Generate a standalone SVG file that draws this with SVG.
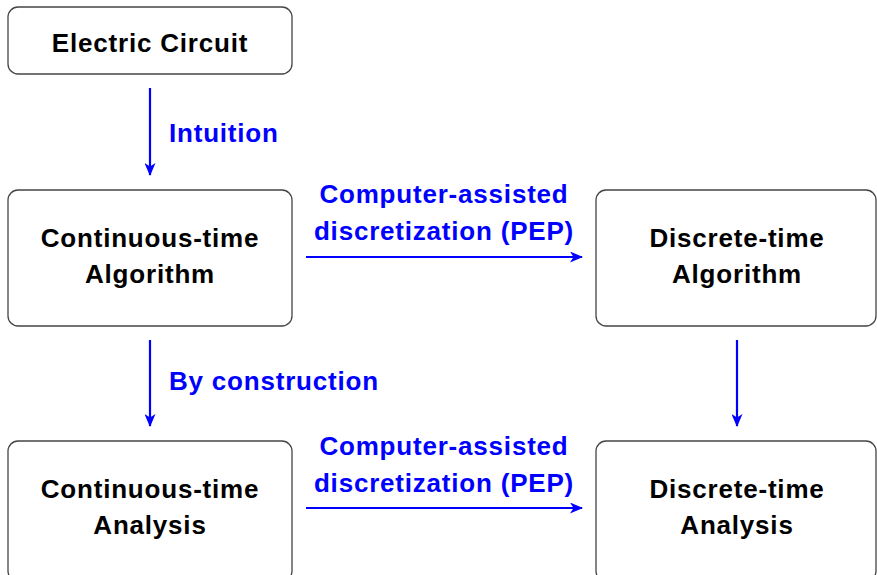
<svg xmlns="http://www.w3.org/2000/svg" width="877" height="575" viewBox="0 0 877 575">
<style>
.box{fill:#fff;stroke:#444;stroke-width:1.3}
.t{font-family:"Liberation Sans",Arial,sans-serif;font-weight:bold;font-size:26px;letter-spacing:0.8px;fill:#000;text-anchor:middle}
.l{font-family:"Liberation Sans",Arial,sans-serif;font-weight:bold;font-size:26px;letter-spacing:0.8px;fill:#0000ff}
.c{stroke:#0000ff;stroke-width:2.2;fill:none}
</style>
<defs>
<marker id="ah" viewBox="0 0 13 11" refX="12" refY="5.5" markerWidth="13" markerHeight="11" markerUnits="userSpaceOnUse" orient="auto">
<path d="M0,0 L13,5.5 L0,11 L3.5,5.5 Z" fill="#0000ff"/>
</marker>
</defs>
<g id="n-circuit"><rect class="box" x="8" y="7" width="284" height="67" rx="10"/><text class="t" x="150" y="52">Electric Circuit</text></g>
<g id="n-ct-alg"><rect class="box" x="8" y="190" width="284" height="136" rx="10"/><text class="t" x="150" y="247">Continuous-time</text><text class="t" x="150" y="283">Algorithm</text></g>
<g id="n-dt-alg"><rect class="box" x="596" y="190" width="280" height="136" rx="10"/><text class="t" x="737" y="247">Discrete-time</text><text class="t" x="737" y="283">Algorithm</text></g>
<g id="n-ct-an"><rect class="box" x="8" y="441" width="284" height="140" rx="10"/><text class="t" x="150" y="498">Continuous-time</text><text class="t" x="150" y="534">Analysis</text></g>
<g id="n-dt-an"><rect class="box" x="596" y="441" width="280" height="140" rx="10"/><text class="t" x="737" y="498">Discrete-time</text><text class="t" x="737" y="534">Analysis</text></g>
<g id="connectors">
<line class="c" x1="150" y1="88" x2="150" y2="175" marker-end="url(#ah)"/>
<text class="l" x="169" y="142">Intuition</text>
<line class="c" x1="306" y1="257" x2="582" y2="257" marker-end="url(#ah)"/>
<text class="l" x="444" y="203" text-anchor="middle">Computer-assisted</text>
<text class="l" x="444" y="240" text-anchor="middle">discretization (PEP)</text>
<line class="c" x1="150" y1="340" x2="150" y2="426" marker-end="url(#ah)"/>
<text class="l" x="169" y="390">By construction</text>
<line class="c" x1="737" y1="340" x2="737" y2="426" marker-end="url(#ah)"/>
<line class="c" x1="306" y1="508" x2="582" y2="508" marker-end="url(#ah)"/>
<text class="l" x="444" y="455" text-anchor="middle">Computer-assisted</text>
<text class="l" x="444" y="492" text-anchor="middle">discretization (PEP)</text>
</g>
</svg>
